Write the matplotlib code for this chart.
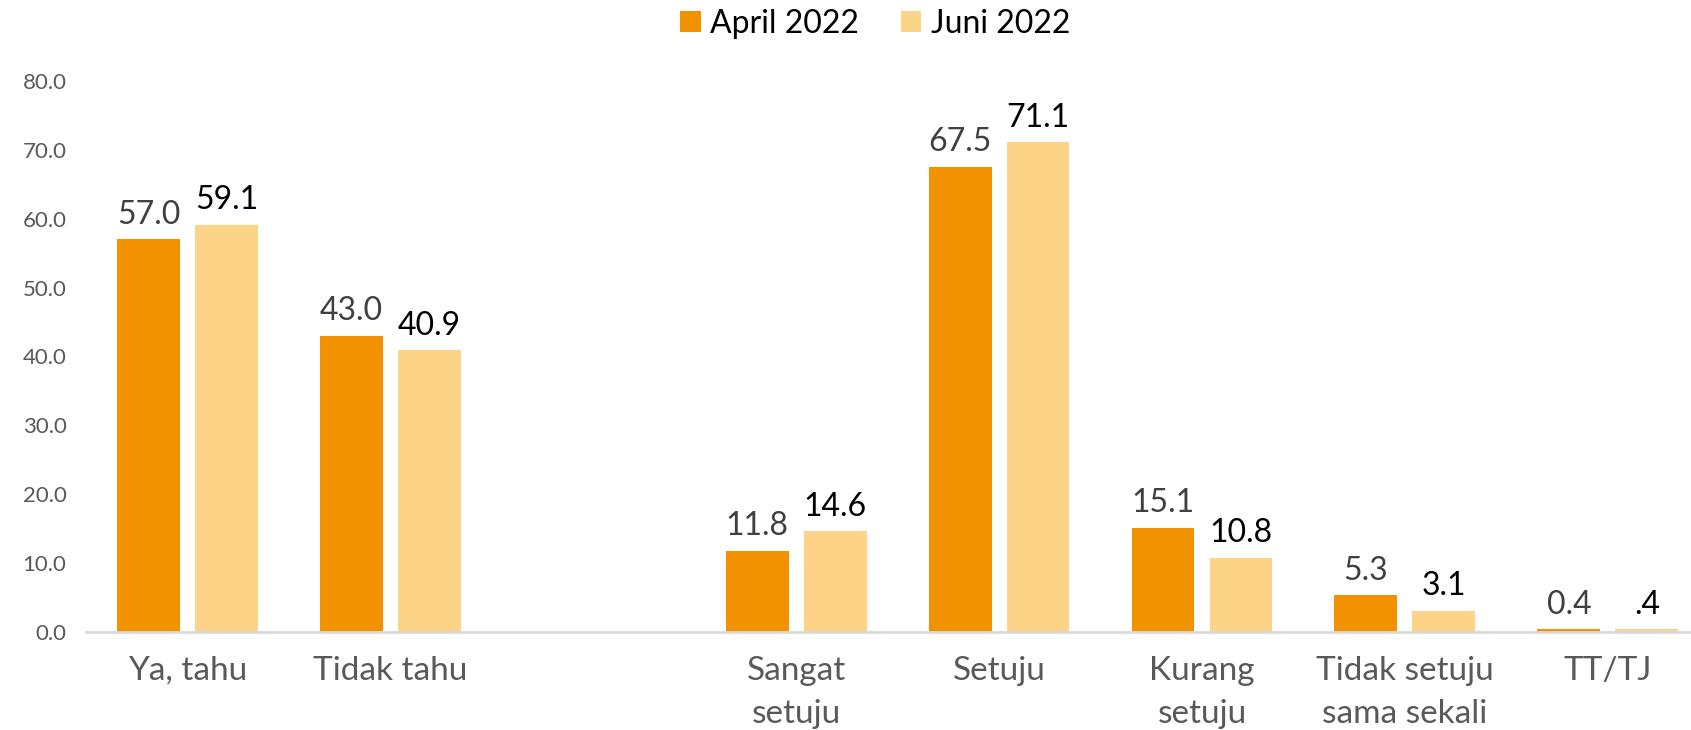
import numpy as np
import matplotlib.pyplot as plt

# Data
categories = ["Ya, tahu", "Tidak tahu", "", "Sangat\nsetuju", "Setuju",
              "Kurang\nsetuju", "Tidak setuju\nsama sekali", "TT/TJ"]
april = [57.0, 43.0, np.nan, 11.8, 67.5, 15.1, 5.3, 0.4]
juni = [59.1, 40.9, np.nan, 14.6, 71.1, 10.8, 3.1, 0.4]
april_text = ["57.0", "43.0", "", "11.8", "67.5", "15.1", "5.3", "0.4"]
juni_text = ["59.1", "40.9", "", "14.6", "71.1", "10.8", "3.1", ".4"]
yticks = [0, 10, 20, 30, 40, 50, 60, 70, 80]

c_april = "#F39200"
c_juni = "#FDD388"

plt.rcParams['font.family'] = ['Lato', 'DejaVu Sans']

fig = plt.figure(figsize=(16.91, 7.30), dpi=100)
ax = fig.add_axes([86 / 1691, 98 / 730, 1 - 86 / 1691, (632 - 81) / 730])

x = np.arange(len(categories))
w = 0.31
off = 0.192
b1 = ax.bar(x - off, april, w, color=c_april, label="April 2022")
b2 = ax.bar(x + off, juni, w, color=c_juni, label="Juni 2022")

# Value labels above the bars
for xi, v, t in zip(x, april, april_text):
    if t:
        ax.annotate(t, (xi - off, v), xytext=(0, 7), textcoords="offset points",
                    ha="center", va="bottom", fontsize=23, color="#404040")
for xi, v, t in zip(x, juni, juni_text):
    if t:
        ax.annotate(t, (xi + off, v), xytext=(0, 7), textcoords="offset points",
                    ha="center", va="bottom", fontsize=23, color="#000000")

ax.set_xlim(-0.5, 7.41)
ax.set_ylim(0, 80)
ax.set_yticks(yticks)
ax.set_yticklabels([f"{t:.1f}" for t in yticks], fontsize=16, color="#595959")
ax.set_xticks(x)
ax.set_xticklabels(categories, fontsize=24, color="#595959", linespacing=1.55)
ax.tick_params(axis="both", length=0)
ax.tick_params(axis="x", pad=17)
ax.tick_params(axis="y", pad=14)

for s in ["top", "right", "left"]:
    ax.spines[s].set_visible(False)
ax.spines["bottom"].set_color("#D9D9D9")
ax.spines["bottom"].set_linewidth(2)

fig.legend(handles=[b1, b2], loc="center", bbox_to_anchor=(875 / 1691, 1 - 24 / 730),
           ncol=2, frameon=False, fontsize=23, handlelength=0.65, handleheight=0.65,
           handletextpad=0.3, columnspacing=1.3)

fig.savefig("out.png", dpi=100)
